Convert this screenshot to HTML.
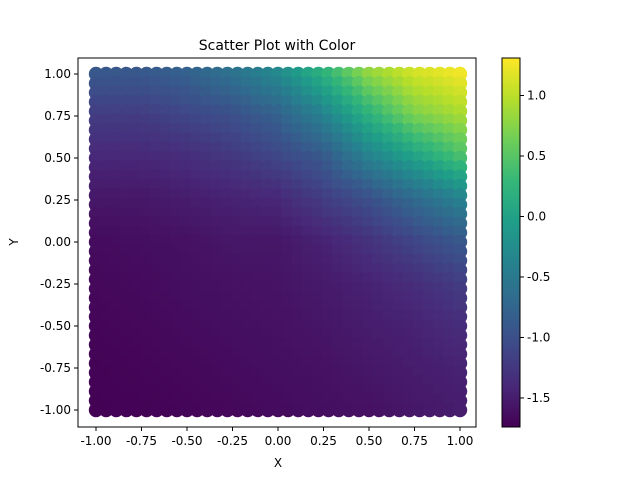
<!DOCTYPE html>
<html><head><meta charset="utf-8"><style>
body{margin:0;background:#fff;font-family:"Liberation Sans","DejaVu Sans",sans-serif}
svg text{font-family:"DejaVu Sans","Liberation Sans",sans-serif;fill:#000}
</style></head><body>
<svg id="chart" width="640" height="480"></svg>
<script>
const gridX=[-1,-0.75,-0.5,-0.25,0,0.25,0.5,0.75,1];
const gridY=[1,0.75,0.5,0.25,0,-0.25,-0.5,-0.75,-1];
const colorValues=[
[-0.9,-0.9,-0.8,-0.6,-0.3,0.2,0.8,1.1,1.25],
[-1.2,-1.2,-1.1,-1.0,-0.8,-0.4,0.2,0.7,0.9],
[-1.4,-1.4,-1.35,-1.25,-1.1,-0.9,-0.4,0.0,0.4],
[-1.55,-1.55,-1.5,-1.45,-1.4,-1.2,-1.0,-0.7,-0.4],
[-1.65,-1.62,-1.6,-1.55,-1.55,-1.45,-1.3,-1.1,-0.9],
[-1.68,-1.66,-1.62,-1.6,-1.58,-1.52,-1.45,-1.35,-1.2],
[-1.7,-1.68,-1.65,-1.62,-1.6,-1.56,-1.5,-1.45,-1.35],
[-1.72,-1.7,-1.68,-1.65,-1.62,-1.6,-1.55,-1.5,-1.45],
[-1.73,-1.72,-1.7,-1.68,-1.65,-1.62,-1.6,-1.55,-1.5]];
const xTicks=[-1,-0.75,-0.5,-0.25,0,0.25,0.5,0.75,1];
const yTicks=[-1,-0.75,-0.5,-0.25,0,0.25,0.5,0.75,1];
const cTicks=[-1.5,-1.0,-0.5,0.0,0.5,1.0];
const cMin=-1.74,cMax=1.31;

const NS="http://www.w3.org/2000/svg";
const svg=document.getElementById('chart');
function el(t,a,p){const e=document.createElementNS(NS,t);for(const k in a)e.setAttribute(k,a[k]);(p||svg).appendChild(e);return e;}
const sx=v=>278+v*182, sy=v=>242-v*168;
const vir=[[68,1,84],[72,40,120],[62,74,137],[49,104,142],[38,130,142],[31,158,137],[53,183,121],[110,206,88],[181,222,43],[253,231,37]];
function cmap(v){let t=(v-cMin)/(cMax-cMin);t=Math.max(0,Math.min(1,t))*(vir.length-1);const i=Math.min(vir.length-2,Math.floor(t)),f=t-i;
const c=vir[i].map((a,k)=>Math.round(a+(vir[i+1][k]-a)*f));return `rgb(${c})`;}
function valAt(x,y){const fx=(x+1)/0.25,fy=(1-y)/0.25;const i=Math.min(7,Math.floor(fx)),j=Math.min(7,Math.floor(fy));const a=fx-i,b=fy-j;
return colorValues[j][i]*(1-a)*(1-b)+colorValues[j][i+1]*a*(1-b)+colorValues[j+1][i]*(1-a)*b+colorValues[j+1][i+1]*a*b;}
const frame=el('rect',{x:78,y:58,width:398,height:369,fill:'none',stroke:'#000','stroke-width':1});


const pts=el('g',{});


const N=36;
for(let r=0;r<=N;r++)for(let q=0;q<=N;q++){
 const x=-1+2*q/N,y=1-2*r/N;
 const c=el('circle',{cx:sx(x),cy:sy(y),r:7.2,fill:cmap(valAt(x,y))},pts);
 
 
}
xTicks.forEach(v=>{el('line',{x1:sx(v),x2:sx(v),y1:427,y2:431,stroke:'#000'});
 const t=el('text',{x:sx(v),y:445,'font-size':12,'text-anchor':'middle'});t.textContent=v.toFixed(2);
 
 });
yTicks.forEach(v=>{el('line',{x1:74,x2:78,y1:sy(v),y2:sy(v),stroke:'#000'});
 const t=el('text',{x:71,y:sy(v)+4,'font-size':12,'text-anchor':'end'});t.textContent=v.toFixed(2);
 
 });
const cy=v=>427-(v-cMin)/(cMax-cMin)*369;
const defs=el('defs',{});const g=el('linearGradient',{id:'vg',x1:0,y1:1,x2:0,y2:0},defs);
vir.forEach((c,i)=>el('stop',{offset:i/(vir.length-1),'stop-color':`rgb(${c})`},g));
const cb=el('rect',{x:502,y:58,width:18,height:369,fill:'url(#vg)',stroke:'#000'});


cTicks.forEach(v=>{el('line',{x1:520,x2:524,y1:cy(v),y2:cy(v),stroke:'#000'});
 const t=el('text',{x:527,y:cy(v)+4,'font-size':12});t.textContent=v.toFixed(1);
 
 });
let t=el('text',{x:277,y:50,'font-size':14,'text-anchor':'middle'});t.textContent='Scatter Plot with Color';


t=el('text',{x:278,y:467,'font-size':12,'text-anchor':'middle'});t.textContent='X';


t=el('text',{x:18,y:242,'font-size':12,'text-anchor':'middle',transform:'rotate(-90 18 242)'});t.textContent='Y';


</script>
</body></html>
